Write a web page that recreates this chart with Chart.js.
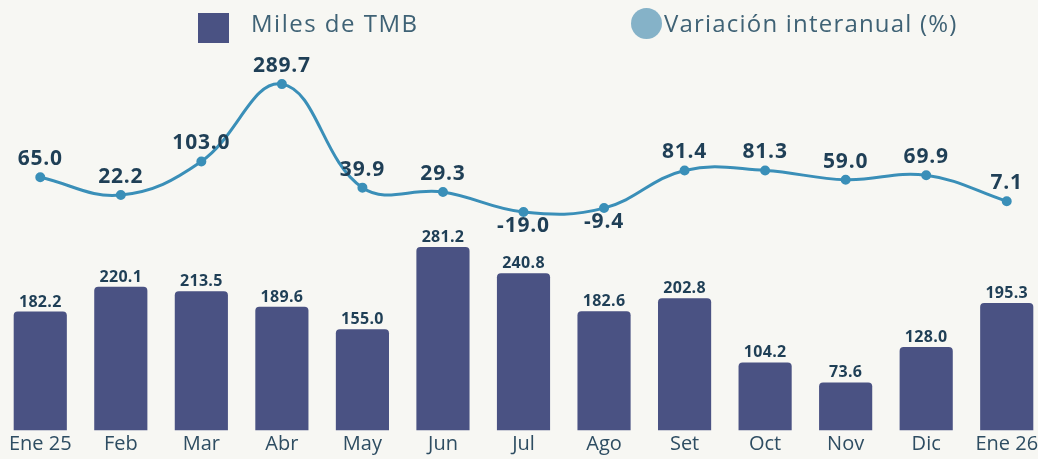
<!DOCTYPE html>
<html>
<head>
<meta charset="utf-8">
<script src="https://cdn.jsdelivr.net/npm/chart.js@4.4.1/dist/chart.umd.min.js"></script>
<style>
    html, body { margin: 0; padding: 0; background: #f7f7f3; overflow: hidden; }
    #wrap { width: 1047px; height: 459px; position: relative; }
</style>
</head>
<body>
<div id="wrap"><canvas id="tmbChart"></canvas></div>
<script>
const meses = ['Ene 25', 'Feb', 'Mar', 'Abr', 'May', 'Jun', 'Jul', 'Ago', 'Set', 'Oct', 'Nov', 'Dic', 'Ene 26'];
const milesTMB = [182.2, 220.1, 213.5, 189.6, 155.0, 281.2, 240.8, 182.6, 202.8, 104.2, 73.6, 128.0, 195.3];
const variacion = [65.0, 22.2, 103.0, 289.7, 39.9, 29.3, -19.0, -9.4, 81.4, 81.3, 59.0, 69.9, 7.1];

const colorBarra = '#4a5283';
const colorLinea = '#3a8fb8';
const colorTexto = '#1f3f56';
const fuente = "'Open Sans', 'Noto Sans', sans-serif";

// Leyenda dibujada a mano (cuadro + círculo como en el original)
const leyenda = {
    id: 'leyenda',
    afterDraw(chart) {
        const ctx = chart.ctx;
        ctx.save();
        ctx.fillStyle = colorBarra;
        ctx.fillRect(198, 13, 31, 30);
        ctx.fillStyle = '#85b2c8';
        ctx.beginPath();
        ctx.arc(646.5, 23.5, 15.5, 0, Math.PI * 2);
        ctx.fill();
        ctx.fillStyle = '#3f6275';
        ctx.font = `24px ${fuente}`;
        ctx.textBaseline = 'middle';
        ctx.letterSpacing = '1.5px';
        ctx.fillText('Miles de TMB', 251, 25);
        ctx.letterSpacing = '1.2px';
        ctx.fillText('Variación interanual (%)', 664, 25);
        ctx.restore();
    }
};

// Etiquetas de valores sobre barras y puntos
const etiquetas = {
    id: 'etiquetas',
    afterDatasetsDraw(chart) {
        const ctx = chart.ctx;
        ctx.save();
        ctx.fillStyle = colorTexto;
        ctx.textAlign = 'center';

        const barras = chart.getDatasetMeta(0).data;
        ctx.font = `bold 16px ${fuente}`;
        ctx.letterSpacing = '0.3px';
        ctx.textBaseline = 'alphabetic';
        barras.forEach((el, i) => {
            ctx.fillText(milesTMB[i].toFixed(1), el.x, el.y - 5);
        });

        const puntos = chart.getDatasetMeta(1).data;
        ctx.font = `bold 21px ${fuente}`;
        ctx.letterSpacing = '0.8px';
        puntos.forEach((el, i) => {
            const v = variacion[i];
            if (v < 0) {
                ctx.textBaseline = 'top';
                ctx.fillText(v.toFixed(1), el.x, el.y + 3);
            } else {
                ctx.textBaseline = 'alphabetic';
                ctx.fillText(v.toFixed(1), el.x, el.y - 12);
            }
        });
        ctx.restore();
    }
};

const ctx = document.getElementById('tmbChart').getContext('2d');
new Chart(ctx, {
    data: {
        labels: meses,
        datasets: [{
            type: 'bar',
            label: 'Miles de TMB',
            data: milesTMB,
            backgroundColor: colorBarra,
            borderRadius: { topLeft: 4, topRight: 4 },
            borderSkipped: 'bottom',
            barPercentage: 0.66,
            categoryPercentage: 1,
            yAxisID: 'y',
            order: 2
        }, {
            type: 'line',
            label: 'Variación interanual (%)',
            data: variacion,
            borderColor: colorLinea,
            backgroundColor: colorLinea,
            borderWidth: 3,
            pointRadius: 3.5,
            pointHoverRadius: 3.5,
            tension: 0.4,
            yAxisID: 'y2',
            order: 1
        }]
    },
    options: {
        responsive: true,
        maintainAspectRatio: false,
        animation: false,
        layout: { autoPadding: false, padding: { top: 50, left: 0, right: 0, bottom: 0 } },
        plugins: {
            legend: { display: false },
            tooltip: { enabled: false }
        },
        scales: {
            x: {
                grid: { display: false, drawTicks: false },
                border: { display: false },
                ticks: {
                    color: '#2e4d62',
                    padding: 4.25,
                    font: { size: 20, family: fuente, lineHeight: 1 }
                }
            },
            y: { display: false, min: 0, max: 583 },
            y2: { display: false, min: -546, max: 372 }
        }
    },
    plugins: [leyenda, etiquetas]
});
</script>
</body>
</html>
